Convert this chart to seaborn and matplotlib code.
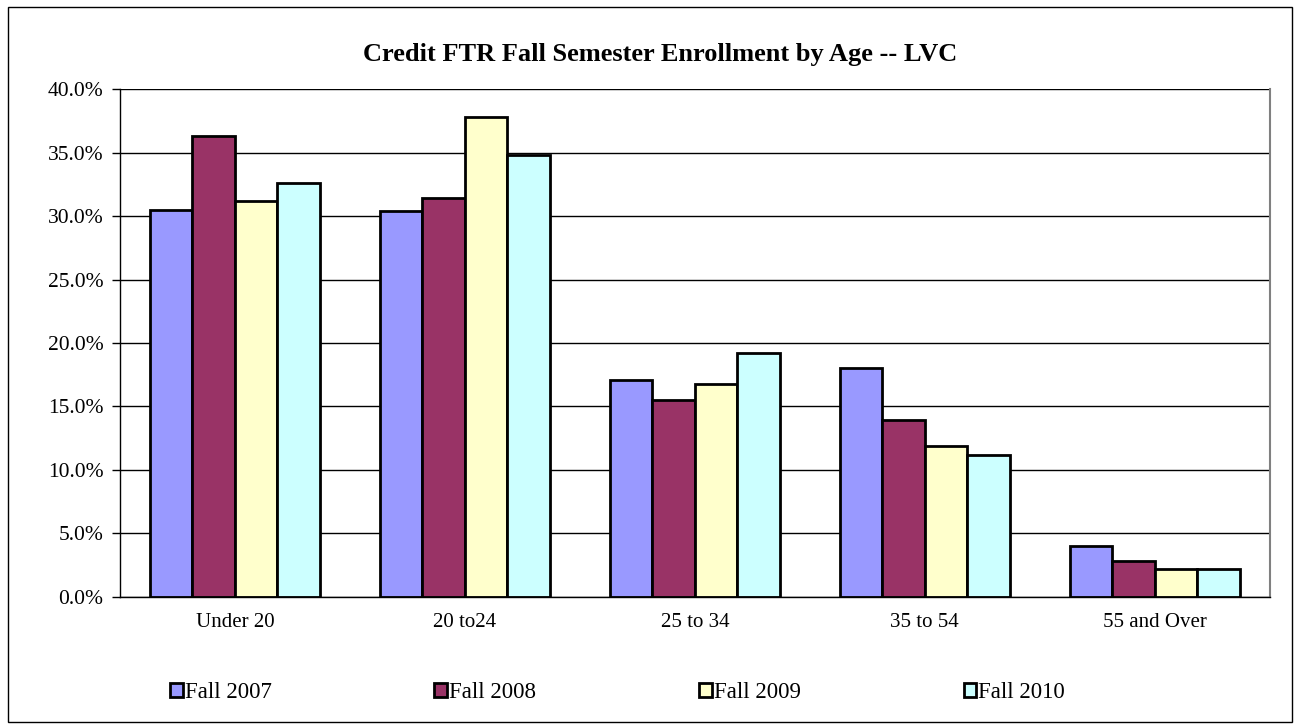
import pandas as pd
import matplotlib.pyplot as plt
import seaborn as sns
from matplotlib.patches import Rectangle
from matplotlib.ticker import FuncFormatter

# Dane
kategorie = ['Under 20', '20 to24', '25 to 34', '35 to 54', '55 and Over']
semestry = ['Fall 2007', 'Fall 2008', 'Fall 2009', 'Fall 2010']
fall_2007 = [30.5, 30.4, 17.1, 18.0, 4.0]
fall_2008 = [36.3, 31.4, 15.5, 13.9, 2.8]
fall_2009 = [31.2, 37.8, 16.8, 11.9, 2.2]
fall_2010 = [32.6, 34.8, 19.2, 11.2, 2.2]
kolory = ['#9999FF', '#993366', '#FFFFCC', '#CCFFFF']

wartosci = [fall_2007, fall_2008, fall_2009, fall_2010]
df = pd.DataFrame([
    {'kategoria': k, 'semestr': s, 'procent': v}
    for s, vals in zip(semestry, wartosci)
    for k, v in zip(kategorie, vals)
])

sns.set_style('white')
plt.rcParams['font.family'] = ['Liberation Serif', 'DejaVu Serif']
plt.rcParams['text.color'] = 'black'
plt.rcParams['xtick.color'] = 'black'
plt.rcParams['ytick.color'] = 'black'

fig = plt.figure(figsize=(12.97, 7.26), dpi=100)
ax = fig.add_axes([0.0925, 0.178, 0.8865, 0.699])

sns.barplot(data=df, x='kategoria', y='procent', hue='semestr',
            palette=kolory, saturation=1, width=0.74, edgecolor='black',
            linewidth=2.0, ax=ax, legend=True)

ax.set_ylim(0, 40)
ax.set_xlim(-0.5, 4.5)
ax.set_yticks(range(0, 41, 5))
ax.yaxis.set_major_formatter(FuncFormatter(lambda v, p: f'{v:.1f}%'))
ax.grid(axis='y', color='black', linewidth=1.0)
ax.set_axisbelow(True)
ax.set_xlabel('')
ax.set_ylabel('')

# Podziałki osi X na granicach kategorii
ax.set_xticks([i - 0.5 for i in range(6)], minor=True)
ax.tick_params(axis='x', which='minor', length=6, width=1, color='black', direction='out')
ax.tick_params(axis='x', which='major', length=0, labelsize=15, pad=12)
ax.tick_params(axis='y', length=6, width=1, color='black', direction='out',
               labelsize=15.5, left=True, pad=6)

for side in ['left', 'bottom']:
    ax.spines[side].set_color('black')
    ax.spines[side].set_linewidth(1.0)
ax.spines['top'].set_visible(False)
ax.spines['right'].set_color('#808080')
ax.spines['right'].set_linewidth(1.5)

fig.text(0.509, 0.925, 'Credit FTR Fall Semester Enrollment by Age -- LVC',
         ha='center', va='center', fontsize=19, fontweight='bold')

handles, labels = ax.get_legend_handles_labels()
ax.legend(handles, labels, loc='center left', bbox_to_anchor=(0.131, 0.0455),
          bbox_transform=fig.transFigure, ncol=4, frameon=False,
          fontsize=16.5, handlelength=0.55, handleheight=0.55, handletextpad=0.1,
          columnspacing=7.1, borderaxespad=0, borderpad=0)

# Ramka wokół wykresu
fig.add_artist(Rectangle((0.006, 0.005), 0.99, 0.985, transform=fig.transFigure,
                         fill=False, edgecolor='black', linewidth=1.0))

plt.savefig('out.png', dpi=100)
